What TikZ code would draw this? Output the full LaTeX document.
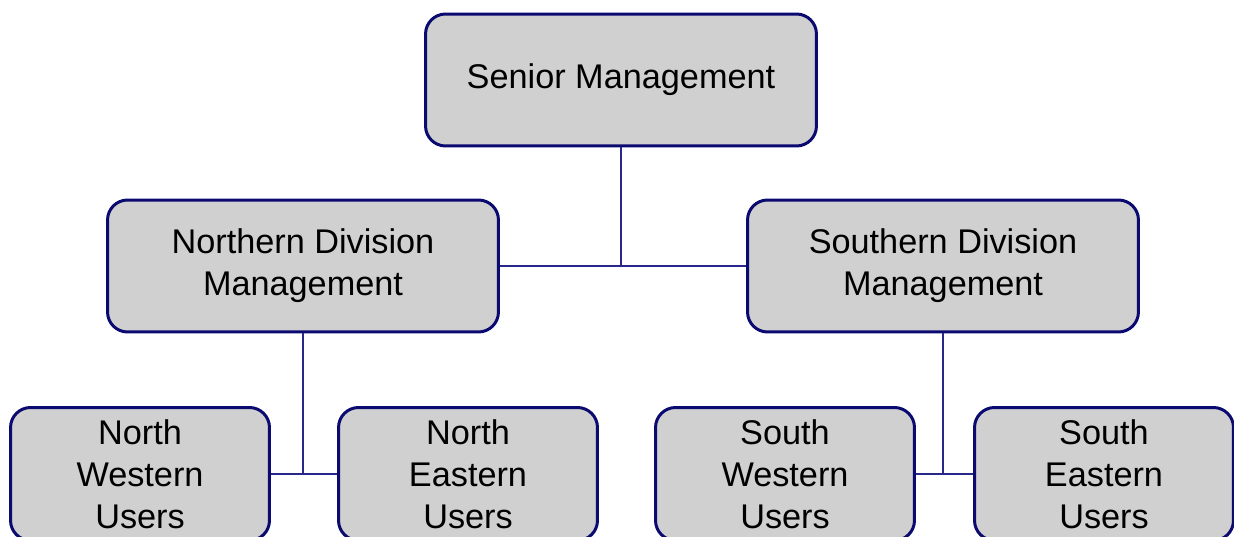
\documentclass[tikz,border=0pt]{standalone}
\usepackage{fontspec}
\setmainfont{Liberation Sans}
\usetikzlibrary{positioning}
\definecolor{OrgNavy}{RGB}{10,10,112}
\definecolor{OrgLine}{RGB}{40,40,140}
\definecolor{OrgFill}{RGB}{208,208,208}

\begin{document}
\begin{tikzpicture}[x=0.02cm,y=-0.02cm,
    unit/.style={draw=OrgNavy,line width=1.7pt,fill=OrgFill,rounded corners=0.4cm,
      align=center,inner sep=0pt,font=\fontsize{19.5}{24}\selectfont},
    topunit/.style={unit,minimum width=7.82cm,minimum height=2.64cm},
    leafunit/.style={unit,minimum width=5.18cm,minimum height=2.66cm},
    link/.style={draw=OrgLine,line width=1.1pt}]
  \useasboundingbox (0,0) rectangle (1234,537);
  \clip (0,0) rectangle (1234,537);
  % management levels
  \node[topunit] (senior) at (621,80) {Senior Management};
  \node[topunit] (north) at (303,266) {Northern Division\\Management};
  \node[topunit] (south) at (943,266) {Southern Division\\Management};
  % user groups
  \node[leafunit] (nw) at (140,474) {North\\Western\\Users};
  \node[leafunit] (ne) at (468,474) {North\\Eastern\\Users};
  \node[leafunit] (sw) at (785,474) {South\\Western\\Users};
  \node[leafunit] (se) at (1104,474) {South\\Eastern\\Users};
  % connectors
  \coordinate (midtop) at (senior.south |- north.east);
  \coordinate (midnorth) at (north.south |- nw.east);
  \coordinate (midsouth) at (south.south |- sw.east);
  \draw[link] (north.east) -- (south.west);
  \draw[link] (senior.south) -- (midtop);
  \draw[link] (nw.east) -- (ne.west);
  \draw[link] (north.south) -- (midnorth);
  \draw[link] (sw.east) -- (se.west);
  \draw[link] (south.south) -- (midsouth);
\end{tikzpicture}
\end{document}
